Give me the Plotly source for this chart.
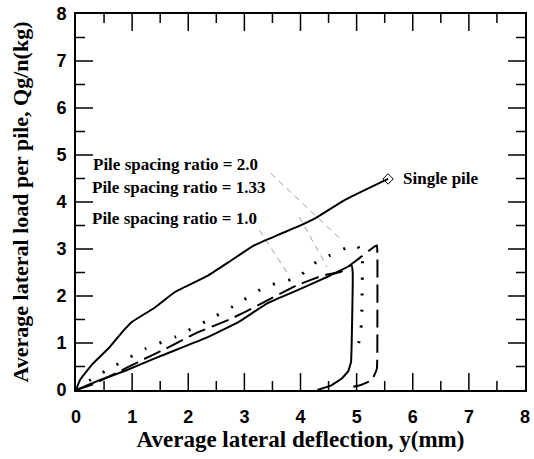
import plotly.graph_objects as go

# ---- data ----
single_x = [0, 0.07, 0.3, 0.59, 0.8, 1.0, 1.4, 1.77, 2.36, 2.77, 3.18, 3.6, 3.94, 4.3, 4.77, 5.56]
single_y = [0, 0.21, 0.56, 0.9, 1.2, 1.45, 1.75, 2.09, 2.44, 2.76, 3.08, 3.3, 3.47, 3.68, 4.03, 4.49]

r10_x = [0, 0.42, 0.9, 1.48, 2.36, 2.9, 3.4, 4.0, 4.5, 4.91, 4.93, 4.92, 4.9, 4.85, 4.74, 4.55, 4.3]
r10_y = [0, 0.21, 0.42, 0.71, 1.13, 1.45, 1.84, 2.15, 2.42, 2.65, 2.5, 1.5, 0.6, 0.4, 0.25, 0.1, 0.0]

r133_x = [0, 0.3, 0.65, 1.18, 1.6, 2.12, 2.77, 3.24, 3.94, 4.41, 4.71, 5.0, 5.36, 5.37, 5.37, 5.36, 5.27, 5.06, 4.94]
r133_y = [0, 0.12, 0.32, 0.64, 0.88, 1.2, 1.52, 1.8, 2.23, 2.44, 2.51, 2.76, 3.08, 2.9, 1.5, 0.45, 0.21, 0.1, 0.07]

r20_x = [0, 0.3, 0.71, 1.24, 1.77, 2.3, 2.83, 3.36, 3.65, 3.94, 4.24, 4.53, 4.83, 5.0, 5.1, 5.1, 5.09, 5.07, 5.03]
r20_y = [0, 0.25, 0.53, 0.88, 1.13, 1.45, 1.8, 2.19, 2.3, 2.38, 2.69, 2.87, 3.03, 3.08, 2.9, 2.27, 1.49, 1.2, 0.96]

leader_a_x = [3.47, 4.74]
leader_a_y = [4.61, 3.18]
leader_b_x = [3.27, 3.77]
leader_b_y = [3.40, 2.48]
leader_c_x = [3.98, 4.47]
leader_c_y = [3.68, 2.62]

label_texts = ["Pile spacing ratio = 2.0", "Pile spacing ratio = 1.33", "Pile spacing ratio = 1.0"]
label_x = [0.27, 0.25, 0.25]
label_y = [4.8, 4.3, 3.64]

tick_vals = [0, 1, 2, 3, 4, 5, 6, 7, 8]
tick_text = ["0", "1", "2", "3", "4", "5", "6", "7", "8"]
major_ticks = [1, 2, 3, 4, 5, 6, 7]
minor_ticks = [0.5, 1.5, 2.5, 3.5, 4.5, 5.5, 6.5, 7.5]
axis_min, axis_max = 0, 8

fig = go.Figure()

for lx, ly in [(leader_a_x, leader_a_y), (leader_b_x, leader_b_y), (leader_c_x, leader_c_y)]:
    fig.add_trace(go.Scatter(x=lx, y=ly, mode="lines", showlegend=False, hoverinfo="skip",
                             line=dict(color="#a0a0a0", width=1, dash="6px,5px")))

fig.add_trace(go.Scatter(x=single_x, y=single_y, mode="lines", name="Single pile",
                         line=dict(color="black", width=2, shape="spline", smoothing=0.4)))
fig.add_trace(go.Scatter(x=[single_x[-1]], y=[single_y[-1]], mode="markers", showlegend=False,
                         marker=dict(symbol="diamond-open", size=8, color="black", line=dict(width=1))))
fig.add_trace(go.Scatter(x=r10_x, y=r10_y, mode="lines", name="Pile spacing ratio = 1.0",
                         line=dict(color="black", width=2, shape="spline", smoothing=0.3)))
fig.add_trace(go.Scatter(x=r133_x, y=r133_y, mode="lines", name="Pile spacing ratio = 1.33",
                         line=dict(color="black", width=2, dash="18px,7px", shape="spline", smoothing=0.3)))
fig.add_trace(go.Scatter(x=r20_x, y=r20_y, mode="lines", name="Pile spacing ratio = 2.0",
                         line=dict(color="black", width=3, dash="2px,14px", shape="spline", smoothing=0.3)))

serif = dict(family="Liberation Serif", size=17, color="black")
for t, x, y in zip(label_texts, label_x, label_y):
    fig.add_annotation(x=x, y=y, text="<b>" + t + "</b>", showarrow=False, xanchor="left",
                       yanchor="middle", font=serif)
fig.add_annotation(x=5.79, y=4.5, text="<b>Single pile</b>", showarrow=False, xanchor="left",
                   yanchor="middle", font=serif)

# inward tick marks on all four sides (pixel lengths anchored at the axis values)
tick_line = dict(color="black", width=1.5)
for vals, length in [(major_ticks, 17), (minor_ticks, 9)]:
    for v in vals:
        fig.add_shape(type="line", xref="x", yref="y", ysizemode="pixel", yanchor=axis_min,
                      x0=v, x1=v, y0=0, y1=length, line=tick_line)
        fig.add_shape(type="line", xref="x", yref="y", ysizemode="pixel", yanchor=axis_max,
                      x0=v, x1=v, y0=0, y1=-length, line=tick_line)
        fig.add_shape(type="line", xref="x", yref="y", xsizemode="pixel", xanchor=axis_min,
                      y0=v, y1=v, x0=0, x1=length, line=tick_line)
        fig.add_shape(type="line", xref="x", yref="y", xsizemode="pixel", xanchor=axis_max,
                      y0=v, y1=v, x0=0, x1=-length, line=tick_line)

main_axis = dict(
    range=[axis_min, axis_max], tickmode="array", tickvals=tick_vals,
    ticktext=["<b>" + t + "</b>" for t in tick_text],
    ticks="outside", tickcolor="rgba(0,0,0,0)",
    showline=True, linewidth=2, linecolor="black", mirror=True,
    showgrid=False, zeroline=False,
    tickfont=dict(family="Liberation Sans", size=18, color="black"),
)

fig.update_layout(
    width=534, height=459,
    margin=dict(l=76, r=4, t=13, b=69),
    paper_bgcolor="white", plot_bgcolor="white",
    showlegend=False,
    xaxis=dict(**main_axis, ticklen=9,
               title=dict(text="<b>Average lateral deflection, y(mm)</b>", standoff=0,
                          font=dict(family="Liberation Serif", size=23, color="black"))),
    yaxis=dict(**main_axis, ticklen=4,
               title=dict(text="<b>Average lateral load per pile, Qg/n(kg)</b>", standoff=22,
                          font=dict(family="Liberation Serif", size=22, color="black"))),
)

fig.write_html("out.html")
